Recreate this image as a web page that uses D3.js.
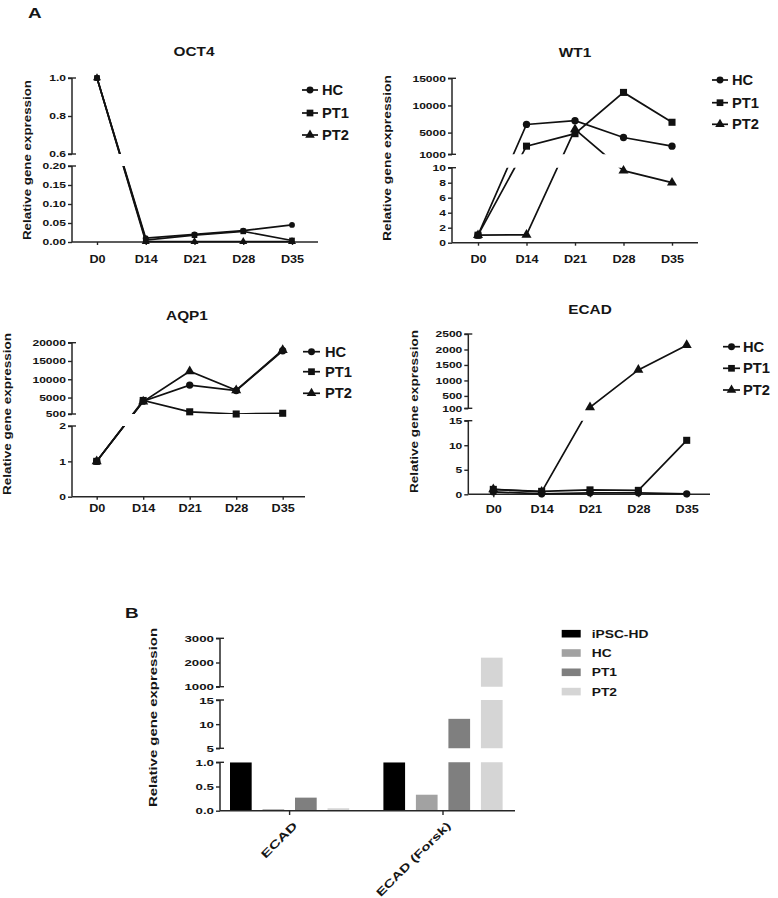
<!DOCTYPE html>
<html><head><meta charset="utf-8">
<script src="https://cdn.jsdelivr.net/npm/d3@7"></script>
<style>
body{margin:0;background:#fff}
svg{display:block}
text{font-family:"Liberation Sans",Arial,sans-serif;font-weight:bold;fill:#151515}
</style>
</head><body>
<svg id="c" width="778" height="898"></svg>
<script>
// ---------- DATA ----------
const days = ["D0","D14","D21","D28","D35"];
const seriesNames = ["HC","PT1","PT2"];

const oct4HC  = [1, 0.010, 0.020, 0.030, 0.045];
const oct4PT1 = [1, 0.005, 0.018, 0.028, 0.004];
const oct4PT2 = [1, 0.001, 0.001, 0.001, 0.001];
const oct4LowTicks = [0, 0.05, 0.10, 0.15, 0.20];
const oct4HighTicks = [0.6, 0.8, 1.0];

const wt1HC  = [1, 6500, 7200, 4100, 2500];
const wt1PT1 = [1, 2500, 4800, 12400, 6900];
const wt1PT2 = [1, 1.05, 5600, 9.6, 8.0];
const wt1LowTicks = [0, 2, 4, 6, 8, 10];
const wt1HighTicks = [1000, 5000, 10000, 15000];

const aqp1HC  = [1, 4000, 8400, 6900, 17800];
const aqp1PT1 = [1, 4200, 1100, 500, 700];
const aqp1PT2 = [1, 3900, 12200, 7000, 18000];
const aqp1LowTicks = [0, 1, 2];
const aqp1HighTicks = [500, 5000, 10000, 15000, 20000];

const ecadHC  = [0.5, 0.1, 0.3, 0.3, 0.1];
const ecadPT1 = [1.0, 0.6, 0.9, 0.8, 11];
const ecadPT2 = [1.0, 0.5, 132, 1340, 2140];
const ecadLowTicks = [0, 5, 10, 15];
const ecadHighTicks = [100, 500, 1000, 1500, 2000, 2500];

const barGroups = ["ECAD", "ECAD (Forsk)"];
const barSeries = ["iPSC-HD", "HC", "PT1", "PT2"];
const barECAD  = [1.0, 0.03, 0.27, 0.05];
const barForsk = [1.0, 0.33, 11.1, 2200];
const barLowTicks = [0, 0.5, 1.0];
const barMidTicks = [5, 10, 15];
const barHighTicks = [1000, 2000, 3000];
const barColors = ["#000000", "#a2a2a2", "#7f7f7f", "#d5d5d5"];

// ---------- HELPERS ----------
const svg = d3.select("#c");
const defs = svg.append("defs");
const AX = "#262626";

function txt(g, x, y, str, o) {
  const t = g.append("text")
    .attr("transform", `translate(${x},${y}) scale(${o.stretch||1},1)`)
    .attr("font-size", o.size)
    .attr("text-anchor", o.anchor || "start")
    .text(str);
  if (o.dy) t.attr("dy", o.dy);
  return t;
}
function yTitle(g, x, y, len, size) {
  g.append("text")
    .attr("transform", `translate(${x},${y}) rotate(-90)`)
    .attr("font-size", size)
    .attr("text-anchor", "middle")
    .attr("dy", "0.35em")
    .attr("textLength", len)
    .attr("lengthAdjust", "spacingAndGlyphs")
    .text("Relative gene expression");
}
const symType = {HC: d3.symbolCircle, PT1: d3.symbolSquare, PT2: d3.symbolTriangle};
const symSize = {HC: 42, PT1: 50, PT2: 44};
function marker(g, name, x, y, k) {
  g.append("path")
    .attr("d", d3.symbol(symType[name], symSize[name] * k * k)())
    .attr("transform", `translate(${x},${y})`)
    .attr("fill", "#111");
}
function segAxis(g, axisX, scale, ticks, fmt, opts) {
  const a = g.append("g").attr("transform", `translate(${axisX},0)`)
    .call(d3.axisLeft(scale).tickValues(ticks).tickFormat(d3.format(fmt)).tickSize(4).tickPadding(3));
  a.select(".domain").remove();
  a.selectAll(".tick line").attr("stroke", AX).attr("stroke-width", 1.4);
  a.selectAll(".tick text").attr("font-size", opts.size).attr("fill", "#151515")
    .attr("font-family", null)
    .attr("x", -6 / opts.stretch).attr("transform", `scale(${opts.stretch},1)`);
  const r = scale.range();
  g.append("line").attr("x1", axisX).attr("x2", axisX).attr("y1", r[0]).attr("y2", r[1])
    .attr("stroke", AX).attr("stroke-width", 1.5);
  (opts.caps || []).forEach(yy => {
    g.append("line").attr("x1", axisX - 4).attr("x2", axisX + 4).attr("y1", yy).attr("y2", yy)
      .attr("stroke", AX).attr("stroke-width", 1.4);
  });
}

// ---------- LINE PANELS ----------
let clipId = 0;
function linePanel(c) {
  const g = svg.append("g");
  const xs = d3.scalePoint().domain(days).range(c.xRange);
  const yl = d3.scaleLinear().domain(c.lower.domain).range(c.lower.range);
  const yu = d3.scaleLinear().domain(c.upper.domain).range(c.upper.range);
  const y = v => v <= c.lower.domain[1] ? yl(v) : yu(v);

  segAxis(g, c.axisX, yl, c.lower.ticks, c.lower.fmt, {size: 9.3, stretch: 1.3, caps: [c.lower.range[1]]});
  segAxis(g, c.axisX, yu, c.upper.ticks, c.upper.fmt, {size: 9.3, stretch: 1.3, caps: c.upper.range});
  const base = c.lower.range[0];
  const xa = g.append("g").attr("transform", `translate(0,${base})`)
    .call(d3.axisBottom(xs).tickSize(3).tickSizeOuter(0));
  xa.select(".domain").remove();
  xa.selectAll(".tick line").attr("stroke", AX).attr("stroke-width", 1.4);
  xa.selectAll(".tick text").attr("font-size", 11).attr("font-family", null).attr("fill", "#151515")
    .attr("y", c.xLabelDy).attr("dy", 0).attr("transform", "scale(1.15,1)");
  g.append("line").attr("x1", c.axisX).attr("x2", c.axisEnd).attr("y1", base).attr("y2", base)
    .attr("stroke", AX).attr("stroke-width", 1.5);

  const id = "clip" + (clipId++);
  const cp = defs.append("clipPath").attr("id", id);
  cp.append("rect").attr("x", c.axisX - 10).attr("width", c.axisEnd - c.axisX + 30)
    .attr("y", c.lower.range[1]).attr("height", base - c.lower.range[1] + 10);
  cp.append("rect").attr("x", c.axisX - 10).attr("width", c.axisEnd - c.axisX + 30)
    .attr("y", c.upper.range[1] - 20).attr("height", c.upper.range[0] - c.upper.range[1] + 20);

  const line = d3.line().x((d, i) => xs(days[i])).y(d => y(d));
  c.data.forEach(vals => {
    g.append("path").attr("d", line(vals)).attr("fill", "none")
      .attr("stroke", "#111").attr("stroke-width", 1.7).attr("clip-path", `url(#${id})`);
  });
  c.data.forEach((vals, si) => {
    vals.forEach((v, i) => marker(g, seriesNames[si], xs(days[i]), y(v), c.mk));
  });

  txt(g, c.title[1], c.title[2], c.title[0], {size: 12, anchor: "middle", stretch: 1.28});
  yTitle(g, c.yt[0], c.yt[1], c.yt[2], 10.5);

  seriesNames.forEach((s, i) => {
    const ly = c.legend.ys[i];
    g.append("line").attr("x1", c.legend.x1).attr("x2", c.legend.x2).attr("y1", ly).attr("y2", ly)
      .attr("stroke", "#111").attr("stroke-width", 1.7);
    marker(g, s, (c.legend.x1 + c.legend.x2) / 2, ly, 0.95);
    txt(g, c.legend.tx, ly, s, {size: 14, dy: "0.36em", stretch: 1.05});
  });
}

linePanel({
  axisX: 72, axisEnd: 318, xRange: [97, 292],
  lower: {domain: [0, 0.2], range: [242, 166], ticks: oct4LowTicks, fmt: ".2f"},
  upper: {domain: [0.6, 1.0], range: [154, 78], ticks: oct4HighTicks, fmt: ".1f"},
  data: [oct4HC, oct4PT1, oct4PT2], mk: 0.8,
  title: ["OCT4", 194, 56], xLabelDy: 21,
  legend: {x1: 302, x2: 318, tx: 322, ys: [90, 113, 135]},
  yt: [27.5, 160, 160]
});
linePanel({
  axisX: 452, axisEnd: 698, xRange: [478, 672],
  lower: {domain: [0, 10], range: [242.7, 167.7], ticks: wt1LowTicks, fmt: "d"},
  upper: {domain: [1000, 15000], range: [154.3, 78.3], ticks: wt1HighTicks, fmt: "d"},
  data: [wt1HC, wt1PT1, wt1PT2], mk: 1,
  title: ["WT1", 575, 57], xLabelDy: 20.6,
  legend: {x1: 712, x2: 728, tx: 732, ys: [80, 102.7, 124.3]},
  yt: [387.5, 158, 166]
});
linePanel({
  axisX: 72, axisEnd: 305, xRange: [96.7, 282.7],
  lower: {domain: [0, 2], range: [496.7, 426], ticks: aqp1LowTicks, fmt: "d"},
  upper: {domain: [500, 20000], range: [414, 342.7], ticks: aqp1HighTicks, fmt: "d"},
  data: [aqp1HC, aqp1PT1, aqp1PT2], mk: 1,
  title: ["AQP1", 187, 320], xLabelDy: 15,
  legend: {x1: 303, x2: 320, tx: 325, ys: [351.7, 371.7, 393.3]},
  yt: [7.5, 414, 162]
});
linePanel({
  axisX: 468.3, axisEnd: 710, xRange: [493.3, 686.7],
  lower: {domain: [0, 15], range: [494.3, 420.7], ticks: ecadLowTicks, fmt: "d"},
  upper: {domain: [100, 2500], range: [408.3, 334], ticks: ecadHighTicks, fmt: "d"},
  data: [ecadHC, ecadPT1, ecadPT2], mk: 1,
  title: ["ECAD", 590, 314], xLabelDy: 18.4,
  legend: {x1: 723, x2: 740, tx: 743, ys: [346.7, 368.3, 390]},
  yt: [414, 411.5, 163]
});

txt(svg, 28, 18, "A", {size: 14, stretch: 1.35});
txt(svg, 125, 618, "B", {size: 14, stretch: 1.35});

// ---------- BAR PANEL ----------
(function() {
  const g = svg.append("g");
  const axisX = 220, axisEnd = 515;
  const yl = d3.scaleLinear().domain([0, 1]).range([810.7, 762.3]);
  const ym = d3.scaleLinear().domain([5, 15]).range([748.3, 700]);
  const yu = d3.scaleLinear().domain([1000, 3000]).range([686.7, 638.3]);
  const y = v => v <= 1 ? yl(v) : (v <= 15 ? ym(v) : yu(v));
  const x0 = d3.scalePoint().domain(barGroups).range([289.6, 443]);
  const x1 = d3.scaleBand().domain(barSeries).range([-59.6, 59.6]).paddingInner(0.333).paddingOuter(0);

  const id = "clipBar";
  const cp = defs.append("clipPath").attr("id", id);
  [[yl, 0], [ym, 0], [yu, 20]].forEach(([s, extra]) => {
    const r = s.range();
    cp.append("rect").attr("x", axisX).attr("width", axisEnd - axisX)
      .attr("y", r[1] - extra).attr("height", r[0] - r[1] + extra);
  });
  const vals = [barECAD, barForsk];
  barGroups.forEach((grp, gi) => {
    barSeries.forEach((s, si) => {
      const v = vals[gi][si];
      g.append("rect")
        .attr("x", x0(grp) + x1(s)).attr("width", x1.bandwidth())
        .attr("y", y(v)).attr("height", yl(0) - y(v))
        .attr("fill", barColors[si]).attr("clip-path", `url(#${id})`);
    });
  });

  segAxis(g, axisX, yl, barLowTicks, ".1f", {size: 9.5, stretch: 1.4, caps: [762.3]});
  segAxis(g, axisX, ym, barMidTicks, "d", {size: 9.5, stretch: 1.4, caps: [748.3, 700]});
  segAxis(g, axisX, yu, barHighTicks, "d", {size: 9.5, stretch: 1.4, caps: [686.7, 638.3]});
  g.append("line").attr("x1", axisX).attr("x2", axisEnd).attr("y1", 810.7).attr("y2", 810.7)
    .attr("stroke", AX).attr("stroke-width", 1.5);
  const labelLen = [46, 100];
  barGroups.forEach((grp, gi) => {
    g.append("line").attr("x1", x0(grp)).attr("x2", x0(grp)).attr("y1", 810.7).attr("y2", 815)
      .attr("stroke", AX).attr("stroke-width", 1.4);
    g.append("text")
      .attr("transform", `translate(${x0(grp) + 3},${821}) rotate(-45)`)
      .attr("font-size", 11).attr("text-anchor", "end").attr("dy", "0.7em")
      .attr("textLength", labelLen[gi]).attr("lengthAdjust", "spacingAndGlyphs")
      .text(grp);
  });
  yTitle(g, 153.3, 717.5, 179, 11);

  barSeries.forEach((s, i) => {
    const ly = 633.7 + i * 19.3;
    g.append("rect").attr("x", 561.7).attr("y", ly - 3.8).attr("width", 19).attr("height", 7.6)
      .attr("fill", barColors[i]);
    txt(g, 591.7, ly, s, {size: 11.5, dy: "0.36em", stretch: 1.2});
  });
})();
</script>
</body></html>
